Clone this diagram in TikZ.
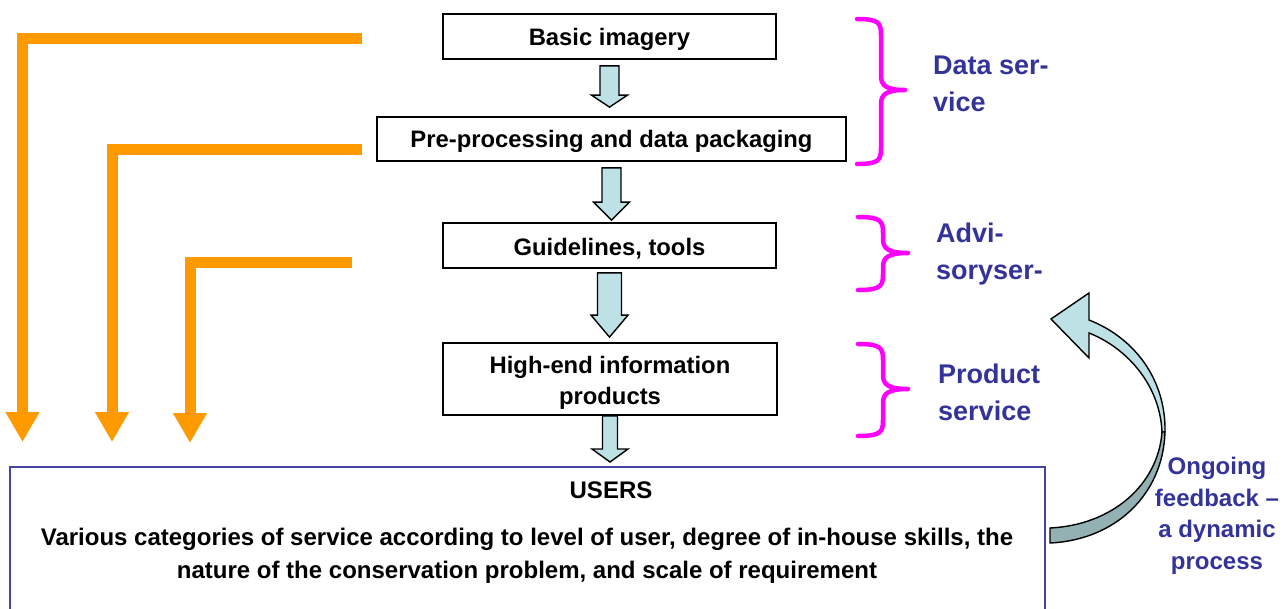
\documentclass[tikz,border=0pt]{standalone}
\usepackage{fontspec}
\setmainfont{Liberation Sans}
\usetikzlibrary{arrows.meta,calc}

\definecolor{feedorange}{HTML}{FF9900}
\definecolor{flowfill}{HTML}{BDE1E4}
\definecolor{flowdark}{HTML}{93B0B3}
\definecolor{bracepink}{HTML}{FF00FF}
\definecolor{labelblue}{HTML}{333399}
\definecolor{userline}{HTML}{4646A0}

% Outlined block arrow from the bottom of one stage box to the top of the next.
% #1 from node, #2 to node, #3 shaft half width, #4 head half width,
% #5 head length, #6 gap below #1, #7 gap above #2
\newcommand\flowstep[7]{%
  \filldraw[flowarrow] let \p1=(#1.south), \p2=(#2.north) in
    (\x1-#3pt, \y1-#6pt) -- (\x1+#3pt, \y1-#6pt)
    -- (\x1+#3pt, \y2+#7pt+#5pt) -- (\x1+#4pt, \y2+#7pt+#5pt)
    -- (\x1, \y2+#7pt)
    -- (\x1-#4pt, \y2+#7pt+#5pt) -- (\x1-#3pt, \y2+#7pt+#5pt) -- cycle;
}

% Right-facing curly brace: #1 end x, #2 spine x, #3 tip x, #4 top y, #5 middle y, #6 bottom y
\newcommand\servicebrace[6]{%
  \draw[bracestroke]
    (#1,#4) .. controls (#2-2,#4) and (#2,#4+4) .. (#2,#4+16)
    -- (#2,#5-14) .. controls (#2,#5-4) and (#2+6,#5) .. (#3,#5)
    .. controls (#2+6,#5) and (#2,#5+4) .. (#2,#5+14)
    -- (#2,#6-16) .. controls (#2,#6-4) and (#2-2,#6) .. (#1,#6);
}

\begin{document}
\begin{tikzpicture}[x=1pt,y=-1pt,
  stage/.style={draw=black, line width=1.8pt, fill=white, inner sep=0pt,
    align=center, font=\bfseries\fontsize{23.8}{31}\selectfont,
    execute at begin node={\rule{0pt}{23pt}}},
  stagetext/.style={inner sep=0pt, align=center, font=\bfseries\fontsize{23.8}{31}\selectfont},
  flowarrow/.style={draw=black, line width=1.4pt, fill=flowfill, line join=miter},
  feedback/.style={draw=feedorange, line width=11pt, line join=miter,
    -{Triangle[width=32pt,length=30pt]}},
  bracestroke/.style={draw=bracepink, line width=4.5pt, line cap=round, line join=round},
  sidelabel/.style={text=labelblue, inner sep=0pt, align=left,
    font=\bfseries\fontsize{27}{37}\selectfont},
  userbox/.style={draw=userline, line width=2pt, fill=white, inner sep=0pt},
  usertext/.style={inner sep=0pt, align=center, font=\bfseries\fontsize{24}{32.5}\selectfont},
  notetext/.style={inner sep=0pt, align=center, text=labelblue,
    font=\bfseries\fontsize{24}{31.5}\selectfont},
  loopfill/.style={draw=black, line width=1.4pt, line join=miter}
]
\useasboundingbox (0,0) rectangle (1287,608);

% ---- users box (runs off the bottom edge)
\node[userbox, minimum width=1035pt, minimum height=173pt] (users) at (527.5,553.5) {};
\node[usertext, anchor=base] (userstitle) at (611,498) {USERS};
\node[usertext, anchor=north] (usersbody) at (527,528)
  {Various categories of service according to level of user, degree of in-house skills, the\\
   nature of the conservation problem, and scale of requirement};

% ---- service chain
\node[stage, minimum width=333pt, minimum height=45pt] (imagery) at (609.5,36.5) {Basic imagery};
\node[stage, minimum width=469pt, minimum height=44pt] (packaging) at (611.5,139) {Pre-processing and data packaging};
\node[stage, minimum width=333pt, minimum height=45pt] (tools) at (609.5,245.5) {Guidelines, tools};
\node[stage, minimum width=334pt, minimum height=72pt, execute at begin node={}] (products) at (610,379) {};
\node[stagetext] (productstext) at ([yshift=-3.5pt]products.center) {High-end information\\products};

\flowstep{imagery}{packaging}{9.5}{18}{12}{6}{9}
\flowstep{packaging}{tools}{9.5}{18}{18}{6}{2}
\flowstep{tools}{products}{12}{18.5}{22}{4}{5}
\flowstep{products}{users}{7.5}{18}{13}{0}{4}

% ---- delivery routes from each level straight to the users
\coordinate (route1) at (362,38.5);
\coordinate (route1end) at (22.5,442);
\coordinate (route2) at (362,149.5);
\coordinate (route2end) at (112,442);
\coordinate (route3) at (352,262);
\coordinate (route3end) at (190,443);
\draw[feedback] (route1) -| (route1end);
\draw[feedback] (route2) -| (route2end);
\draw[feedback] (route3) -| (route3end);

% ---- service groupings
\servicebrace{857}{881}{905}{19}{90}{164}
\servicebrace{858}{883}{908}{217}{253}{290}
\servicebrace{858}{883}{908}{344}{389}{436}

\node[sidelabel, anchor=north west] (datasvc) at (933,56) {Data ser-\\vice};
\node[sidelabel, anchor=north west] (advisorysvc) at (936,223) {Advi-\\soryser-};
\node[sidelabel, anchor=north west] (productsvc) at (938,364) {Product\\service};

% ---- feedback loop arrow (upper face light, lower face shaded)
\filldraw[loopfill, fill=flowfill]
  (1165,432) .. controls (1166,380) and (1135,338) .. (1089,320)
  -- (1089,293) -- (1051,319) -- (1089,358) -- (1089,333)
  .. controls (1127,348) and (1160,385) .. (1162,432) -- cycle;
\filldraw[loopfill, fill=flowdark]
  (1165,432) .. controls (1163,495) and (1115,540) .. (1050,543)
  -- (1050,528) .. controls (1112,525) and (1158,485) .. (1162,432) -- cycle;

\node[notetext, anchor=north] (loopnote) at (1217,457)
  {Ongoing\\feedback –\\a dynamic\\process};
\end{tikzpicture}
\end{document}
